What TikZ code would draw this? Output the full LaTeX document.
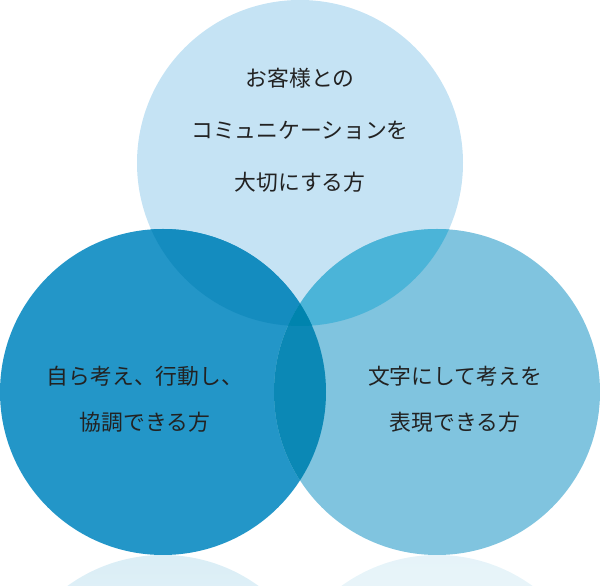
\documentclass[tikz,border=0pt]{standalone}
\usepackage{fontspec}
\setmainfont{Noto Sans CJK JP}
\usetikzlibrary{shadings}
\definecolor{topc}{HTML}{C5E3F4}
\definecolor{leftc}{HTML}{2396C8}
\definecolor{rightc}{HTML}{80C4DF}
\definecolor{tlc}{HTML}{148CBF}
\definecolor{trc}{HTML}{4BB4D8}
\definecolor{lrc}{HTML}{0B88B5}
\definecolor{midc}{HTML}{0084AE}
\definecolor{txt}{HTML}{222222}
\tikzset{label/.style={text=txt,font=\fontsize{15.5}{33}\selectfont,align=center}}
\begin{document}
\begin{tikzpicture}[x=0.025cm,y=0.025cm]
        \useasboundingbox (0,0) rectangle (600,586);
        \coordinate (T) at (300,423);
        \coordinate (L) at (163,194);
        \coordinate (R) at (437,194);
        % reflections
        \begin{scope}
            \clip (0,0) rectangle (600,32);
            \shade[top color=leftc!25,bottom color=white] (L) ++(0,-163*2+0) circle (163);
            \shade[top color=rightc!30,bottom color=white] (R) ++(0,-163*2+0) circle (163);
        \end{scope}
        \fill[topc] (T) circle (163);
        \fill[leftc] (L) circle (163);
        \fill[rightc] (R) circle (163);
        \begin{scope}
            \clip (T) circle (163);
            \fill[tlc] (L) circle (163);
            \fill[trc] (R) circle (163);
        \end{scope}
        \begin{scope}
            \clip (L) circle (163);
            \fill[lrc] (R) circle (163);
            \clip (R) circle (163);
            \fill[midc] (T) circle (163);
        \end{scope}

        \node[label,font=\fontsize{15.5}{37}\selectfont] (top) at (300,456) {お客様との\\コミュニケーションを\\大切にする方};
        \node[label] (left) at (145,187) {自ら考え、行動し、\\協調できる方};
        \node[label] (right) at (455,187) {文字にして考えを\\表現できる方};
    \end{tikzpicture}
\end{document}
